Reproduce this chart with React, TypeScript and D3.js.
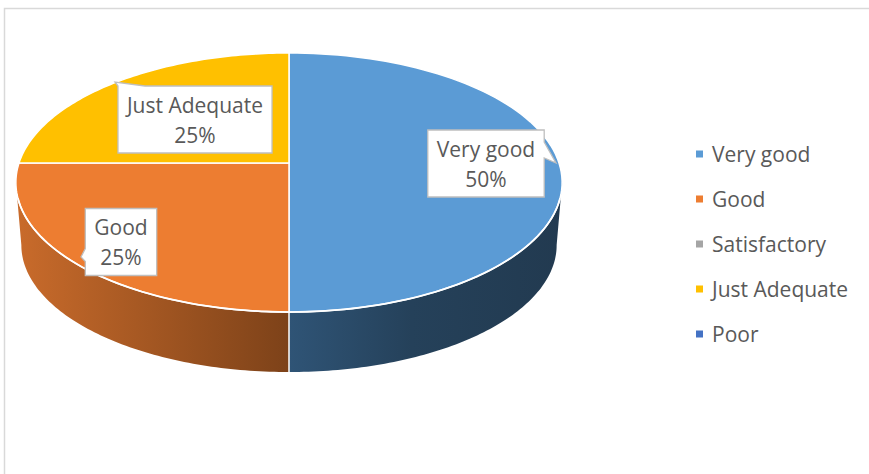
import React, { useEffect, useRef } from 'react';
import * as d3 from 'd3';

const categories = ['Very good', 'Good', 'Satisfactory', 'Just Adequate', 'Poor'];
const values = [50, 25, 0, 25, 0];
const topColors = ['#5B9BD5', '#ED7D31', '#A5A5A5', '#FFC000', '#4472C4'];
const sideLight = ['#2F5476', '#C96B2B', '#7C7C7C', '#BF9000', '#335593'];
const sideDark = ['#223A50', '#7D4219', '#505050', '#7F6000', '#22396A'];

const W = 869;
const H = 474;
const FONT = "'Open Sans', 'Liberation Sans', sans-serif";
const FS = 21;
const TEXT_COL = '#595959';

// perspective pie projection
const CX = 289;
const CY = 163;
const RX = 270;
const RY = 126.6;
const PERSP = -0.1506;
const DEPTH = 63;
const BOTTOM_SCALE = 0.98;

function proj(alpha: number, level: number, r = 1): [number, number] {
  const u = Math.sin(alpha) * r;
  const v = -Math.cos(alpha) * r;
  const s = level ? BOTTOM_SCALE : 1;
  const den = 1 + PERSP * v;
  return [CX + (RX * s * u) / den, CY + level * DEPTH + (RY * s * v) / den];
}

function arcPts(a0: number, a1: number, level: number, n = 90): [number, number][] {
  const pts: [number, number][] = [];
  for (let i = 0; i <= n; i++) pts.push(proj(a0 + ((a1 - a0) * i) / n, level));
  return pts;
}

// callout layout (box centre, pointer tip, pointer side)
const calloutLayout: Record<string, { cx: number; cy: number; side: string; tip: [number, number]; b0: number; b1: number }> = {
  'Very good': { cx: 486, cy: 163.5, side: 'right', tip: [556, 163], b0: 12, b1: 28 },
  'Good': { cx: 121, cy: 242, side: 'left', tip: [81, 257], b0: 40, b1: 53 },
  'Just Adequate': { cx: 195, cy: 119.5, side: 'top', tip: [115, 82], b0: 0, b1: 27 },
};

export default function App() {
  const ref = useRef<SVGSVGElement>(null);

  useEffect(() => {
    const svg = d3.select(ref.current);
    svg.selectAll('*').remove();

    svg.append('rect')
      .attr('x', 4.5).attr('y', 8.5).attr('width', W + 20).attr('height', H + 20)
      .attr('fill', 'white').attr('stroke', '#D9D9D9').attr('stroke-width', 1.5);

    const pie = d3.pie<number>().sort(null).value((d) => d);
    const arcs = pie(values);

    const defs = svg.append('defs');
    const visA0 = Math.acos(PERSP);
    const visA1 = 2 * Math.PI - visA0;

    // sides
    arcs.forEach((a, i) => {
      if (a.value <= 0) return;
      const s0 = Math.max(a.startAngle, visA0);
      const s1 = Math.min(a.endAngle, visA1);
      if (s1 <= s0) return;
      const top = arcPts(s0, s1, 0);
      const bot = arcPts(s0, s1, 1).reverse();
      const xs = top.map((p) => p[0]);
      const x0 = d3.min(xs) as number;
      const x1 = d3.max(xs) as number;
      const gid = 'side' + i;
      const lg = defs.append('linearGradient').attr('id', gid)
        .attr('gradientUnits', 'userSpaceOnUse')
        .attr('x1', x0).attr('y1', 0).attr('x2', x1).attr('y2', 0);
      const rightHalf = (s0 + s1) / 2 < Math.PI;
      if (rightHalf) {
        lg.append('stop').attr('offset', 0).attr('stop-color', sideLight[i]);
        lg.append('stop').attr('offset', 0.45).attr('stop-color', d3.interpolateRgb(sideLight[i], sideDark[i])(0.75));
        lg.append('stop').attr('offset', 1).attr('stop-color', sideDark[i]);
      } else {
        lg.append('stop').attr('offset', 0).attr('stop-color', sideLight[i]);
        lg.append('stop').attr('offset', 1).attr('stop-color', sideDark[i]);
      }
      svg.append('path')
        .attr('d', d3.line()([...top, ...bot]) + 'Z')
        .attr('fill', `url(#${gid})`);
    });

    // side dividers at visible slice boundaries
    arcs.forEach((a) => {
      if (a.value <= 0) return;
      const ang = a.startAngle;
      if (ang > visA0 && ang < visA1) {
        const p0 = proj(ang, 0);
        const p1 = proj(ang, 1);
        svg.append('line').attr('x1', p0[0]).attr('y1', p0[1]).attr('x2', p1[0]).attr('y2', p1[1])
          .attr('stroke', 'white').attr('stroke-width', 1.5);
      }
    });

    // top faces
    arcs.forEach((a, i) => {
      if (a.value <= 0) return;
      const pts: [number, number][] = [[CX, CY], ...arcPts(a.startAngle, a.endAngle, 0)];
      svg.append('path')
        .attr('d', d3.line()(pts) + 'Z')
        .attr('fill', topColors[i])
        .attr('stroke', 'white').attr('stroke-width', 1.5).attr('stroke-linejoin', 'round');
    });

    // white front rim
    svg.append('path')
      .attr('d', d3.line()(arcPts(visA0 + 0.12, visA1 - 0.12, 0)))
      .attr('fill', 'none').attr('stroke', 'white').attr('stroke-width', 1.8);

    // callouts
    arcs.forEach((a, i) => {
      if (a.value <= 0) return;
      const lay = calloutLayout[categories[i]];
      if (!lay) return;
      const g = svg.append('g');
      const pct = Math.round((a.value / d3.sum(values)) * 100) + '%';
      const path = g.append('path');
      const t1 = g.append('text').attr('x', lay.cx).attr('y', lay.cy - 15).text(categories[i]);
      const t2 = g.append('text').attr('x', lay.cx).attr('y', lay.cy + 15).text(pct);
      [t1, t2].forEach((t) => t.attr('text-anchor', 'middle').attr('dominant-baseline', 'central')
        .attr('font-family', FONT).attr('font-size', FS).attr('fill', TEXT_COL));
      const tw = Math.max((t1.node() as SVGTextElement).getComputedTextLength(), (t2.node() as SVGTextElement).getComputedTextLength());
      const bw = tw + 18;
      const bh = 67;
      const L = lay.cx - bw / 2, R = lay.cx + bw / 2, T = lay.cy - bh / 2, B = lay.cy + bh / 2;
      let d = '';
      if (lay.side === 'right') {
        d = `M${L},${T}H${R}V${T + lay.b0}L${lay.tip[0]},${lay.tip[1]}L${R},${T + lay.b1}V${B}H${L}Z`;
      } else if (lay.side === 'left') {
        d = `M${L},${T}H${R}V${B}H${L}V${T + lay.b1}L${lay.tip[0]},${lay.tip[1]}L${L},${T + lay.b0}Z`;
      } else {
        d = `M${L + lay.b0},${T}L${lay.tip[0]},${lay.tip[1]}L${L + lay.b1},${T}H${R}V${B}H${L}Z`;
      }
      path.attr('d', d).attr('fill', 'white').attr('stroke', '#BFBFBF').attr('stroke-width', 1.3);
    });

    // legend
    const ly = d3.scalePoint<string>().domain(categories).range([154, 334]);
    const lg = svg.append('g');
    categories.forEach((c, i) => {
      const y = ly(c) as number;
      lg.append('rect').attr('x', 696).attr('y', y - 3.5).attr('width', 7).attr('height', 7).attr('fill', topColors[i]);
      lg.append('text').attr('x', 712).attr('y', y).attr('dominant-baseline', 'central')
        .attr('font-family', FONT).attr('font-size', FS).attr('fill', TEXT_COL).text(c);
    });
  }, []);

  return (
    <svg ref={ref} width={W} height={H} style={{ position: 'absolute', left: 0, top: 0, background: 'white' }} />
  );
}
